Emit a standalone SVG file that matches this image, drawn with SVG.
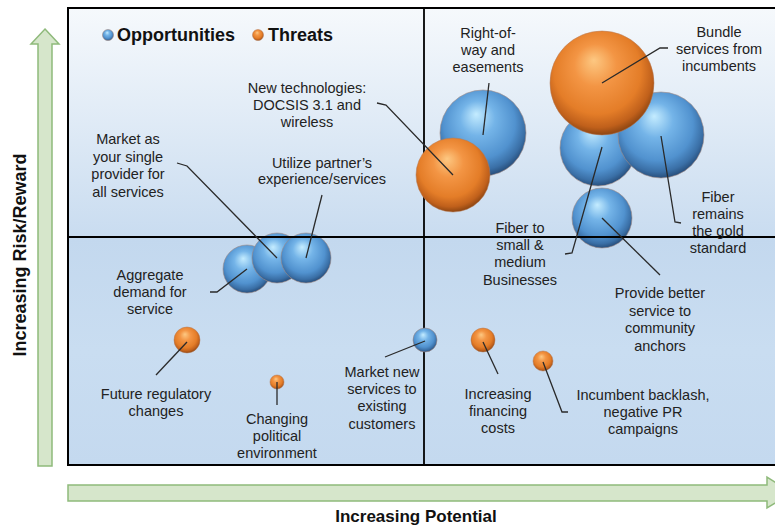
<svg xmlns="http://www.w3.org/2000/svg" width="775" height="527" viewBox="0 0 775 527">
  <style>
    .lbl { font-family: "Liberation Sans", Arial, sans-serif; font-size: 14.5px; fill: #222; text-anchor: middle; }
    .leg { font-family: "Liberation Sans", Arial, sans-serif; font-size: 18px; font-weight: bold; fill: #111; }
    .axis { font-family: "Liberation Sans", Arial, sans-serif; font-weight: bold; fill: #111; text-anchor: middle; }
    .lead { fill: none; stroke: #2a2a2a; stroke-width: 1.3; }
    .ob { fill: url(#gOrange); stroke: #b57a55; stroke-opacity: 0.5; stroke-width: 1; }
    .bb { fill: url(#gBlue); stroke: #a08a86; stroke-opacity: 0.6; stroke-width: 1; }
    .arrow { fill: #d6e6cb; stroke: #8fba7b; stroke-width: 1.5; }
  </style>
  <defs>
    <linearGradient id="gTop" x1="0" y1="0" x2="0" y2="1">
      <stop offset="0" stop-color="#f6f9fc"/>
      <stop offset="1" stop-color="#c9dcf0"/>
    </linearGradient>
    <linearGradient id="gBot" x1="0" y1="0" x2="0" y2="1">
      <stop offset="0" stop-color="#c3d8ee"/>
      <stop offset="0.5" stop-color="#c9ddf1"/>
      <stop offset="1" stop-color="#c4d9ef"/>
    </linearGradient>
    <radialGradient id="gOrange" cx="0.47" cy="0.42" r="0.58" fx="0.42" fy="0.28">
      <stop offset="0" stop-color="#fdc882"/>
      <stop offset="0.35" stop-color="#f39544"/>
      <stop offset="0.72" stop-color="#e47d28"/>
      <stop offset="0.9" stop-color="#c0601b"/>
      <stop offset="1" stop-color="#8e4612"/>
    </radialGradient>
    <radialGradient id="gBlue" cx="0.47" cy="0.42" r="0.58" fx="0.42" fy="0.28">
      <stop offset="0" stop-color="#c4ecff"/>
      <stop offset="0.35" stop-color="#74b4e8"/>
      <stop offset="0.72" stop-color="#5192cf"/>
      <stop offset="0.9" stop-color="#3a6fa6"/>
      <stop offset="1" stop-color="#284f7c"/>
    </radialGradient>
  </defs>

  <!-- axes arrows -->
  <g id="y-axis">
    <polygon class="arrow" points="45,29 59,44 52,44 52,466 38,466 38,44 31,44"/>
    <text class="axis" font-size="18" transform="translate(26,255) rotate(-90)">Increasing Risk/Reward</text>
  </g>
  <g id="x-axis">
    <polygon class="arrow" points="68,485 767,485 767,477 792,493 767,508 767,501 68,501"/>
    <text class="axis" font-size="17" x="416" y="522">Increasing Potential</text>
  </g>

  <!-- plot background -->
  <g id="plot">
    <rect x="68" y="8" width="720" height="229" fill="url(#gTop)"/>
    <rect x="68" y="237" width="720" height="228" fill="url(#gBot)"/>
    <line x1="424" y1="8" x2="424" y2="465" stroke="#000" stroke-width="1.8"/>
  </g>

  <!-- bubbles -->
  <g id="bubbles">
    <g id="b-right-of-way"><circle class="bb" cx="483" cy="133" r="43"/></g>
    <g id="b-new-tech"><circle class="ob" cx="453" cy="175" r="37"/></g>
    <g id="b-fiber-small"><circle class="bb" cx="598" cy="148" r="38"/></g>
    <g id="b-fiber-gold"><circle class="bb" cx="661" cy="135" r="43"/></g>
    <g id="b-bundle"><circle class="ob" cx="602" cy="83" r="52"/></g>
    <g id="b-provide"><circle class="bb" cx="602" cy="218" r="30"/></g>
    <g id="b-aggregate"><circle class="bb" cx="247" cy="269" r="24"/></g>
    <g id="b-market-single"><circle class="bb" cx="277" cy="258" r="25"/></g>
    <g id="b-utilize"><circle class="bb" cx="306" cy="258" r="25"/></g>
    <g id="b-future-reg"><circle class="ob" cx="187" cy="340" r="13"/></g>
    <g id="b-political"><circle class="ob" cx="277" cy="382" r="7"/></g>
    <g id="b-market-new"><circle class="bb" cx="425" cy="340" r="12"/></g>
    <g id="b-financing"><circle class="ob" cx="483" cy="340" r="12"/></g>
    <g id="b-backlash"><circle class="ob" cx="543" cy="361" r="10"/></g>
  </g>

  <line x1="68" y1="237" x2="775" y2="237" stroke="#000" stroke-width="1.8"/>

  <!-- connectors -->
  <g id="connectors">
    <path class="lead" d="M377,103 L386,105 L453,175"/>
    <path class="lead" d="M177,163 L187,166 L277,258"/>
    <path class="lead" d="M322,195 L306,258"/>
    <path class="lead" d="M210,292 L217,292 L247,269"/>
    <path class="lead" d="M156,375 L187,342"/>
    <path class="lead" d="M277,405 L277,382"/>
    <path class="lead" d="M385,357 L425,341"/>
    <path class="lead" d="M483,342 L498,374"/>
    <path class="lead" d="M543,362 L562,412 L568,412"/>
    <path class="lead" d="M602,218 L660,275"/>
    <path class="lead" d="M602,147 L572,253 L565,254"/>
    <path class="lead" d="M661,136 L675,222 L681,223"/>
    <path class="lead" d="M489,83 L483,135"/>
    <path class="lead" d="M668,48 L660,48 L602,83"/>
  </g>

  <rect x="68" y="8" width="720" height="457" fill="none" stroke="#000" stroke-width="2"/>

  <!-- legend -->
  <g id="legend">
    <circle class="bb" cx="108" cy="35" r="5.5"/>
    <text class="leg" x="117" y="41">Opportunities</text>
    <circle class="ob" cx="258" cy="35" r="5.5"/>
    <text class="leg" x="268" y="41">Threats</text>
  </g>

  <!-- labels -->
  <g id="n-right-of-way"><text class="lbl" x="488" y="38">Right-of-</text><text class="lbl" x="488" y="55">way and</text><text class="lbl" x="488" y="72">easements</text></g>
  <g id="n-bundle"><text class="lbl" x="719" y="37">Bundle</text><text class="lbl" x="719" y="54">services from</text><text class="lbl" x="719" y="71">incumbents</text></g>
  <g id="n-new-tech"><text class="lbl" x="307" y="93">New technologies:</text><text class="lbl" x="307" y="110">DOCSIS 3.1 and</text><text class="lbl" x="307" y="127">wireless</text></g>
  <g id="n-market-single"><text class="lbl" x="128" y="144">Market as</text><text class="lbl" x="128" y="162">your single</text><text class="lbl" x="128" y="179">provider for</text><text class="lbl" x="128" y="197">all services</text></g>
  <g id="n-utilize"><text class="lbl" x="322" y="168">Utilize partner’s</text><text class="lbl" x="322" y="184">experience/services</text></g>
  <g id="n-aggregate"><text class="lbl" x="150" y="280">Aggregate</text><text class="lbl" x="150" y="297">demand for</text><text class="lbl" x="150" y="314">service</text></g>
  <g id="n-future-reg"><text class="lbl" x="156" y="399">Future regulatory</text><text class="lbl" x="156" y="416">changes</text></g>
  <g id="n-political"><text class="lbl" x="277" y="424">Changing</text><text class="lbl" x="277" y="441">political</text><text class="lbl" x="277" y="458">environment</text></g>
  <g id="n-market-new"><text class="lbl" x="382" y="377">Market new</text><text class="lbl" x="382" y="394">services to</text><text class="lbl" x="382" y="411">existing</text><text class="lbl" x="382" y="429">customers</text></g>
  <g id="n-financing"><text class="lbl" x="498" y="399">Increasing</text><text class="lbl" x="498" y="416">financing</text><text class="lbl" x="498" y="433">costs</text></g>
  <g id="n-backlash"><text class="lbl" x="643" y="400">Incumbent backlash,</text><text class="lbl" x="643" y="417">negative PR</text><text class="lbl" x="643" y="434">campaigns</text></g>
  <g id="n-provide"><text class="lbl" x="660" y="298">Provide better</text><text class="lbl" x="660" y="316">service to</text><text class="lbl" x="660" y="333">community</text><text class="lbl" x="660" y="351">anchors</text></g>
  <g id="n-fiber-small"><text class="lbl" x="520" y="233">Fiber to</text><text class="lbl" x="520" y="250">small &amp;</text><text class="lbl" x="520" y="267">medium</text><text class="lbl" x="520" y="285">Businesses</text></g>
  <g id="n-fiber-gold"><text class="lbl" x="718" y="202">Fiber</text><text class="lbl" x="718" y="219">remains</text><text class="lbl" x="718" y="236">the gold</text><text class="lbl" x="718" y="253">standard</text></g>
</svg>
